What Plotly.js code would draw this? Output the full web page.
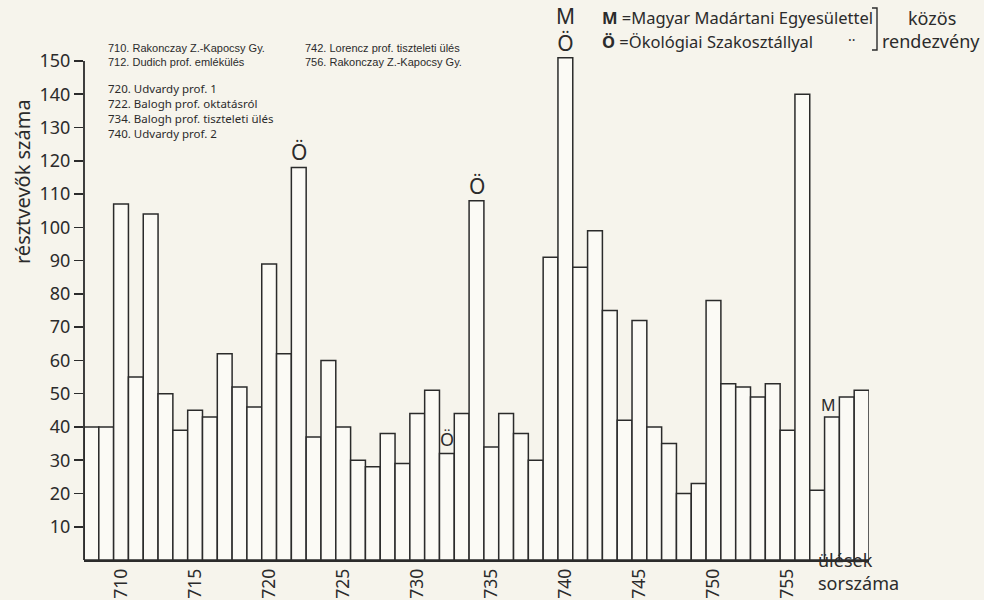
<!DOCTYPE html>
<html>
<head>
<meta charset="utf-8">
<script src="https://cdn.plot.ly/plotly-3.0.1.min.js"></script>
<style>
  html, body { margin: 0; padding: 0; background: #f6f4ec; }
  #chart { width: 984px; height: 600px; }
</style>
</head>
<body>
<div id="chart"></div>
<script>
// Session numbers (ülések sorszáma) and attendance (résztvevők száma)
const sessions = [
  708, 709, 710, 711, 712, 713, 714, 715, 716, 717,
  718, 719, 720, 721, 722, 723, 724, 725, 726, 727,
  728, 729, 730, 731, 732, 733, 734, 735, 736, 737,
  738, 739, 740, 741, 742, 743, 744, 745, 746, 747,
  748, 749, 750, 751, 752, 753, 754, 755, 756, 757,
  758, 759, 760
];
const attendance = [
  40, 40, 107, 55, 104, 50, 39, 45, 43, 62,
  52, 46, 89, 62, 118, 37, 60, 40, 30, 28,
  38, 29, 44, 51, 32, 44, 108, 34, 44, 38,
  30, 91, 151, 88, 99, 75, 42, 72, 40, 35,
  20, 23, 78, 53, 52, 49, 53, 39, 140, 21,
  43, 49, 51
];

// Axis ticks
const xTicks = [710, 715, 720, 725, 730, 735, 740, 745, 750, 755];
const yTicks = [10, 20, 30, 40, 50, 60, 70, 80, 90, 100, 110, 120, 130, 140, 150];

// Joint events: M = with the ornithological society, Ö = with the ecology section
const markedSessions = [722, 732, 734, 740, 758];
const markedLabels   = ['Ö', 'Ö', 'Ö', 'M<br>Ö', 'M'];

// Notes on individual sessions
const notesTop = [
  '710. Rakonczay Z.-Kapocsy Gy.',
  '712. Dudich prof. emlékülés'
];
const notesMid = [
  '720. Udvardy prof. 1',
  '722. Balogh prof. oktatásról',
  '734. Balogh prof. tiszteleti ülés',
  '740. Udvardy prof. 2'
];
const notesRight = [
  '742. Lorencz prof. tiszteleti ülés',
  '756. Rakonczay Z.-Kapocsy Gy.'
];

const INK = '#2b2b2b';
const PAPER = '#f6f4ec';
const FONT = 'Noto Sans, DejaVu Sans, sans-serif';
const NARROW = 'Liberation Sans Narrow, Liberation Sans, sans-serif';

// plot area geometry (pixels) used to place free text
const L = 84, R = 115, T = 40, B = 40, W = 984, H = 600;
const PW = W - L - R, PH = H - T - B;
const px = x => (x - L) / PW;
const py = y => (H - B - y) / PH;

const trace = {
  type: 'bar',
  x: sessions,
  y: attendance,
  marker: { color: '#fbfaf5', line: { color: INK, width: 1.5 } },
  hoverinfo: 'x+y'
};

const annotations = [];

markedSessions.forEach((s, i) => {
  const v = attendance[sessions.indexOf(s)];
  const small = s === 732;
  annotations.push({
    x: s, y: v, xref: 'x', yref: 'y',
    text: markedLabels[i],
    showarrow: false,
    yanchor: 'bottom',
    xshift: s === 758 ? -3 : 0,
    yshift: small ? 1 : -1,
    font: { family: FONT, size: small ? 18 : (s === 758 ? 16 : 21), color: INK }
  });
});

// note blocks, each drawn as one multi-line text
const note = (lines, x, yc, family, size) => ({
  x: px(x), y: py(yc), xref: 'paper', yref: 'paper',
  xanchor: 'left', yanchor: 'middle', align: 'left', showarrow: false,
  borderpad: 0,
  text: lines.join('<br>'),
  font: { family: family, size: size, color: INK }
});
annotations.push(
  note(notesTop, 107, 55, NARROW, 11),
  note(notesMid, 107, 111.5, FONT, 11.5),
  note(notesRight, 304, 55, NARROW, 11)
);

// key in the upper right corner
annotations.push(
  { x: px(600), y: py(18), xref: 'paper', yref: 'paper', xanchor: 'left', yanchor: 'middle',
    showarrow: false, text: '<b>M</b> =Magyar Madártani Egyesülettel',
    font: { family: FONT, size: 16.5, color: INK } },
  { x: px(600), y: py(41), xref: 'paper', yref: 'paper', xanchor: 'left', yanchor: 'middle',
    showarrow: false, text: '<b>Ö</b> =Ökológiai Szakosztállyal',
    font: { family: FONT, size: 16.5, color: INK } },
  { x: px(852), y: py(39), xref: 'paper', yref: 'paper', xanchor: 'center', yanchor: 'middle',
    showarrow: false, text: '··', font: { family: FONT, size: 14, color: INK } },
  { x: px(906), y: py(18), xref: 'paper', yref: 'paper', xanchor: 'left', yanchor: 'middle',
    showarrow: false, text: 'közös', font: { family: FONT, size: 18, color: INK } },
  { x: px(880), y: py(41), xref: 'paper', yref: 'paper', xanchor: 'left', yanchor: 'middle',
    showarrow: false, text: 'rendezvény', font: { family: FONT, size: 18, color: INK } }
);

// axis titles
annotations.push(
  { x: px(22), y: py(182), xref: 'paper', yref: 'paper', xanchor: 'center', yanchor: 'middle',
    showarrow: false, textangle: -90, text: 'résztvevők száma',
    font: { family: FONT, size: 20, color: INK } },
  { x: px(816), y: py(571), xref: 'paper', yref: 'paper', xanchor: 'left', yanchor: 'middle',
    showarrow: false, align: 'left', text: 'ülések<br>sorszáma',
    font: { family: FONT, size: 18, color: INK } }
);

const shapes = [
  // vertical axis, drawn up to the 150 mark
  { type: 'line', xref: 'paper', yref: 'y', x0: 0, x1: 0, y0: 0, y1: 150,
    line: { color: INK, width: 1.8 } },
  // bracket joining the two key lines
  { type: 'path', xref: 'paper', yref: 'paper',
    path: `M ${px(872)} ${py(8)} L ${px(877)} ${py(8)} L ${px(877)} ${py(50)} L ${px(872)} ${py(50)}`,
    line: { color: INK, width: 1.4 } }
];

const layout = {
  width: W, height: H,
  margin: { l: L, r: R, t: T, b: B, pad: 0 },
  paper_bgcolor: PAPER,
  plot_bgcolor: PAPER,
  bargap: 0,
  showlegend: false,
  font: { family: FONT, color: INK },
  xaxis: {
    range: [707.5, 760.5],
    tickvals: xTicks,
    ticktext: xTicks.map(String),
    tickangle: -90,
    ticks: '',
    showgrid: false,
    zeroline: false,
    showline: true,
    linecolor: INK,
    linewidth: 1.8,
    tickfont: { family: FONT, size: 17.5, color: INK },
    fixedrange: true
  },
  yaxis: {
    range: [0, 156.3],
    tickvals: yTicks,
    ticktext: yTicks.map(String),
    ticks: 'outside',
    ticklen: 9,
    tickwidth: 1.6,
    tickcolor: INK,
    showgrid: false,
    zeroline: false,
    showline: false,
    tickfont: { family: FONT, size: 18, color: INK },
    fixedrange: true
  },
  annotations: annotations,
  shapes: shapes
};

Plotly.newPlot('chart', [trace], layout, { displayModeBar: false, staticPlot: true });
</script>
</body>
</html>
